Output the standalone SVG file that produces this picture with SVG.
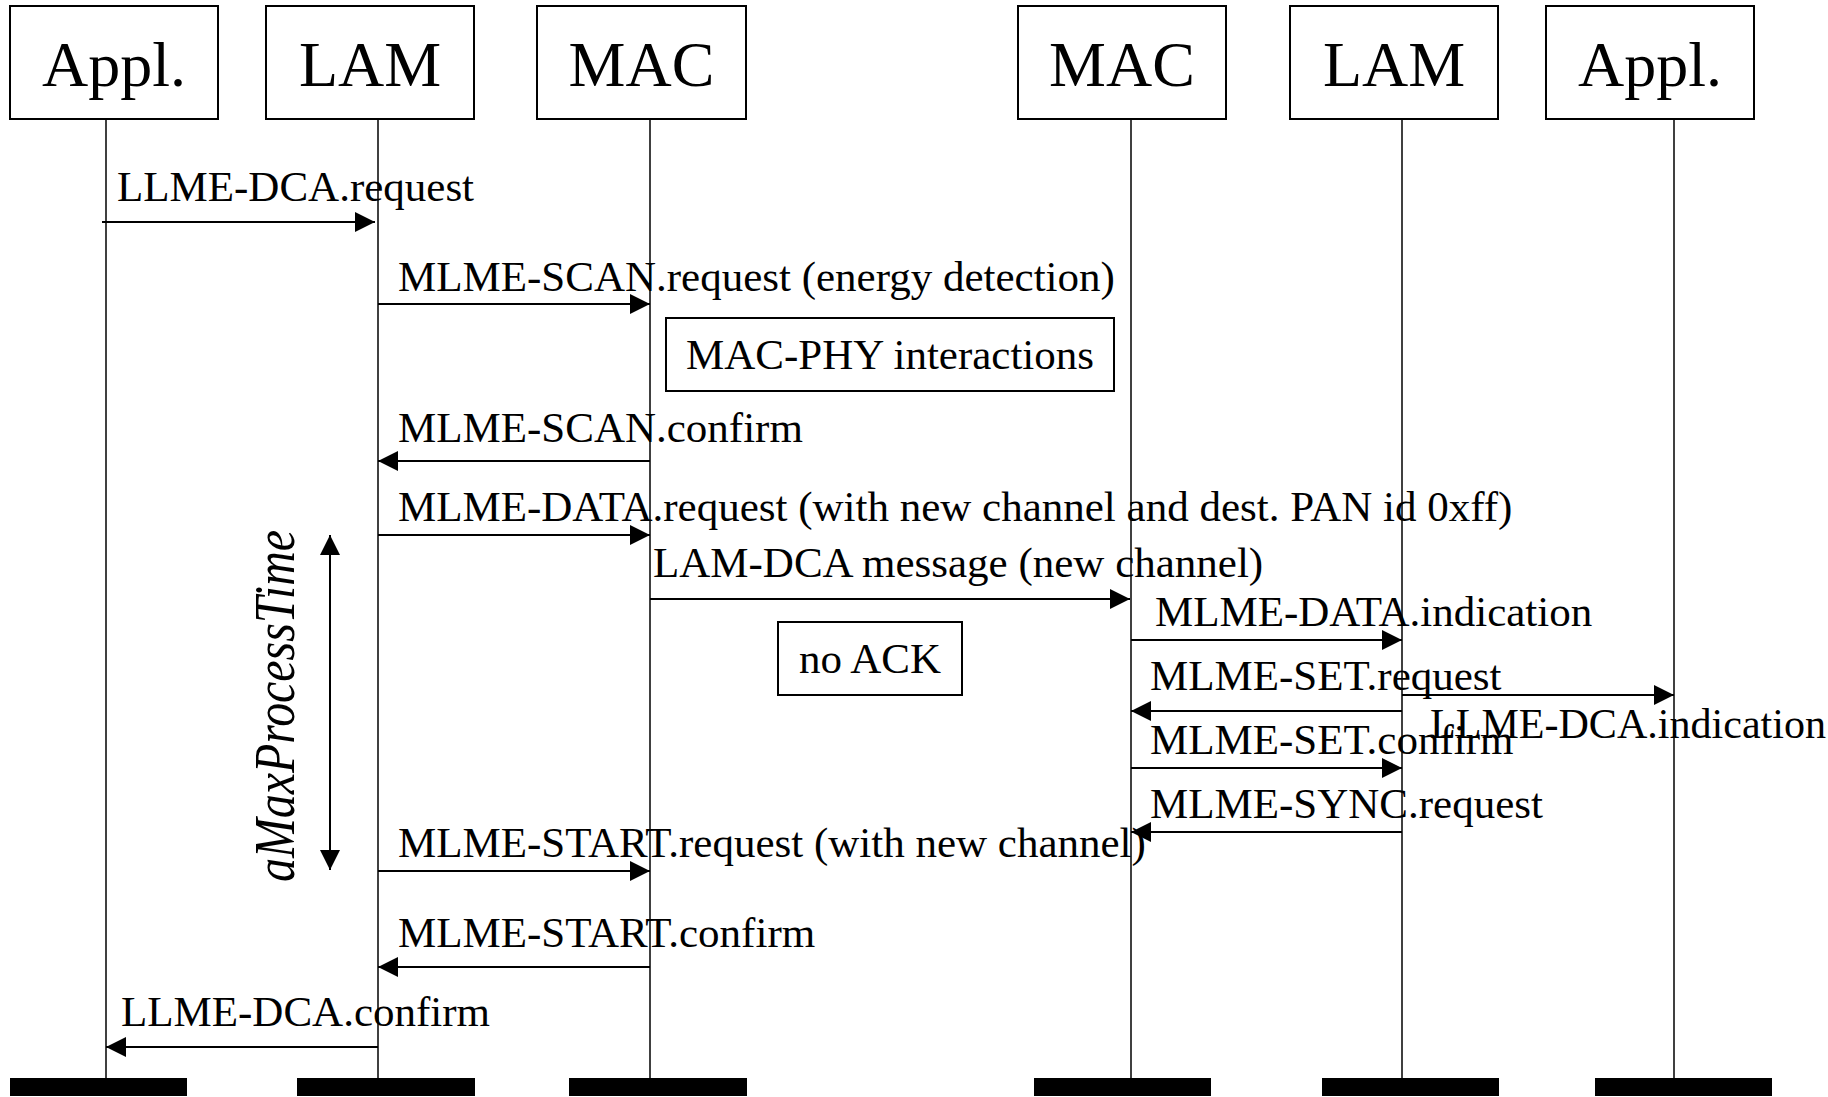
<svg xmlns="http://www.w3.org/2000/svg" width="1828" height="1097" viewBox="0 0 1828 1097">
<style>
text{font-family:"Liberation Serif","Times New Roman",serif;fill:#000}
.lbl{font-size:43px}
.head{font-size:64px;text-anchor:middle}
.box{fill:#fff;stroke:#000;stroke-width:2}
.life{stroke:#000;stroke-width:1.5}
.msg{stroke:#000;stroke-width:2;fill:none;marker-end:url(#ah)}
.bar{fill:#000}
</style>
<defs>
<marker id="ah" markerUnits="userSpaceOnUse" markerWidth="20" markerHeight="20" refX="20" refY="10" orient="auto">
<path d="M0,0 L20,10 L0,20 z" fill="#000"/>
</marker>
<marker id="ahs" markerUnits="userSpaceOnUse" markerWidth="20" markerHeight="20" refX="20" refY="10" orient="auto-start-reverse">
<path d="M0,0 L20,10 L0,20 z" fill="#000"/>
</marker>
</defs>
<rect width="1828" height="1097" fill="#fff"/>
<g id="lifelines">
<line class="life" x1="106" y1="119" x2="106" y2="1078"/>
<line class="life" x1="378" y1="119" x2="378" y2="1078"/>
<line class="life" x1="650" y1="119" x2="650" y2="1078"/>
<line class="life" x1="1131" y1="119" x2="1131" y2="1078"/>
<line class="life" x1="1402" y1="119" x2="1402" y2="1078"/>
<line class="life" x1="1674" y1="119" x2="1674" y2="1078"/>
</g>
<g id="node-appl-left"><rect class="box" x="10" y="6" width="208" height="113"/><text class="head" x="114" y="86">Appl.</text><rect class="bar" x="10" y="1078" width="177" height="18"/></g>
<g id="node-lam-left"><rect class="box" x="266" y="6" width="208" height="113"/><text class="head" x="370" y="86">LAM</text><rect class="bar" x="297" y="1078" width="178" height="18"/></g>
<g id="node-mac-left"><rect class="box" x="537" y="6" width="209" height="113"/><text class="head" x="641.5" y="86">MAC</text><rect class="bar" x="569" y="1078" width="178" height="18"/></g>
<g id="node-mac-right"><rect class="box" x="1018" y="6" width="208" height="113"/><text class="head" x="1122" y="86">MAC</text><rect class="bar" x="1034" y="1078" width="177" height="18"/></g>
<g id="node-lam-right"><rect class="box" x="1290" y="6" width="208" height="113"/><text class="head" x="1394" y="86">LAM</text><rect class="bar" x="1322" y="1078" width="177" height="18"/></g>
<g id="node-appl-right"><rect class="box" x="1546" y="6" width="208" height="113"/><text class="head" x="1650" y="86">Appl.</text><rect class="bar" x="1595" y="1078" width="177" height="18"/></g>
<g id="node-macphy"><rect class="box" x="666" y="318" width="448" height="73"/><text class="lbl" x="890" y="369" text-anchor="middle">MAC-PHY interactions</text></g>
<g id="node-noack"><rect class="box" x="778" y="622" width="184" height="73"/><text class="lbl" x="870" y="673" text-anchor="middle">no ACK</text></g>
<g id="node-amax">
<text x="294" y="882" transform="rotate(-90 294 882)" font-style="italic" font-size="58" textLength="352" lengthAdjust="spacingAndGlyphs">aMaxProcessTime</text>
<line x1="330" y1="535" x2="330" y2="870" stroke="#000" stroke-width="2" marker-start="url(#ahs)" marker-end="url(#ah)"/>
</g>
<g id="connectors">
<line class="msg" x1="102" y1="222" x2="375" y2="222"/>
<line class="msg" x1="378" y1="304" x2="650" y2="304"/>
<line class="msg" x1="650" y1="461" x2="378" y2="461"/>
<line class="msg" x1="378" y1="535" x2="650" y2="535"/>
<line class="msg" x1="650" y1="599" x2="1130" y2="599"/>
<line class="msg" x1="1131" y1="640" x2="1402" y2="640"/>
<line class="msg" x1="1402" y1="711" x2="1131" y2="711"/>
<line class="msg" x1="1402" y1="695" x2="1674" y2="695"/>
<line class="msg" x1="1131" y1="768" x2="1402" y2="768"/>
<line class="msg" x1="1402" y1="832" x2="1131" y2="832"/>
<line class="msg" x1="378" y1="871" x2="650" y2="871"/>
<line class="msg" x1="650" y1="967" x2="378" y2="967"/>
<line class="msg" x1="378" y1="1047" x2="106" y2="1047"/>
</g>
<g id="labels">
<text class="lbl" x="117" y="201">LLME-DCA.request</text>
<text class="lbl" x="398" y="291">MLME-SCAN.request (energy detection)</text>
<text class="lbl" x="398" y="442">MLME-SCAN.confirm</text>
<text class="lbl" x="398" y="521">MLME-DATA.request (with new channel and dest. PAN id 0xff)</text>
<text class="lbl" x="653" y="577">LAM-DCA message (new channel)</text>
<text class="lbl" x="1155" y="626">MLME-DATA.indication</text>
<text class="lbl" x="1150" y="690">MLME-SET.request</text>
<text class="lbl" x="1430" y="738" textLength="396" lengthAdjust="spacingAndGlyphs">LLME-DCA.indication</text>
<text class="lbl" x="1150" y="754">MLME-SET.confirm</text>
<text class="lbl" x="1150" y="818">MLME-SYNC.request</text>
<text class="lbl" x="398" y="857">MLME-START.request (with new channel)</text>
<text class="lbl" x="398" y="947">MLME-START.confirm</text>
<text class="lbl" x="121" y="1026">LLME-DCA.confirm</text>
</g>
</svg>
